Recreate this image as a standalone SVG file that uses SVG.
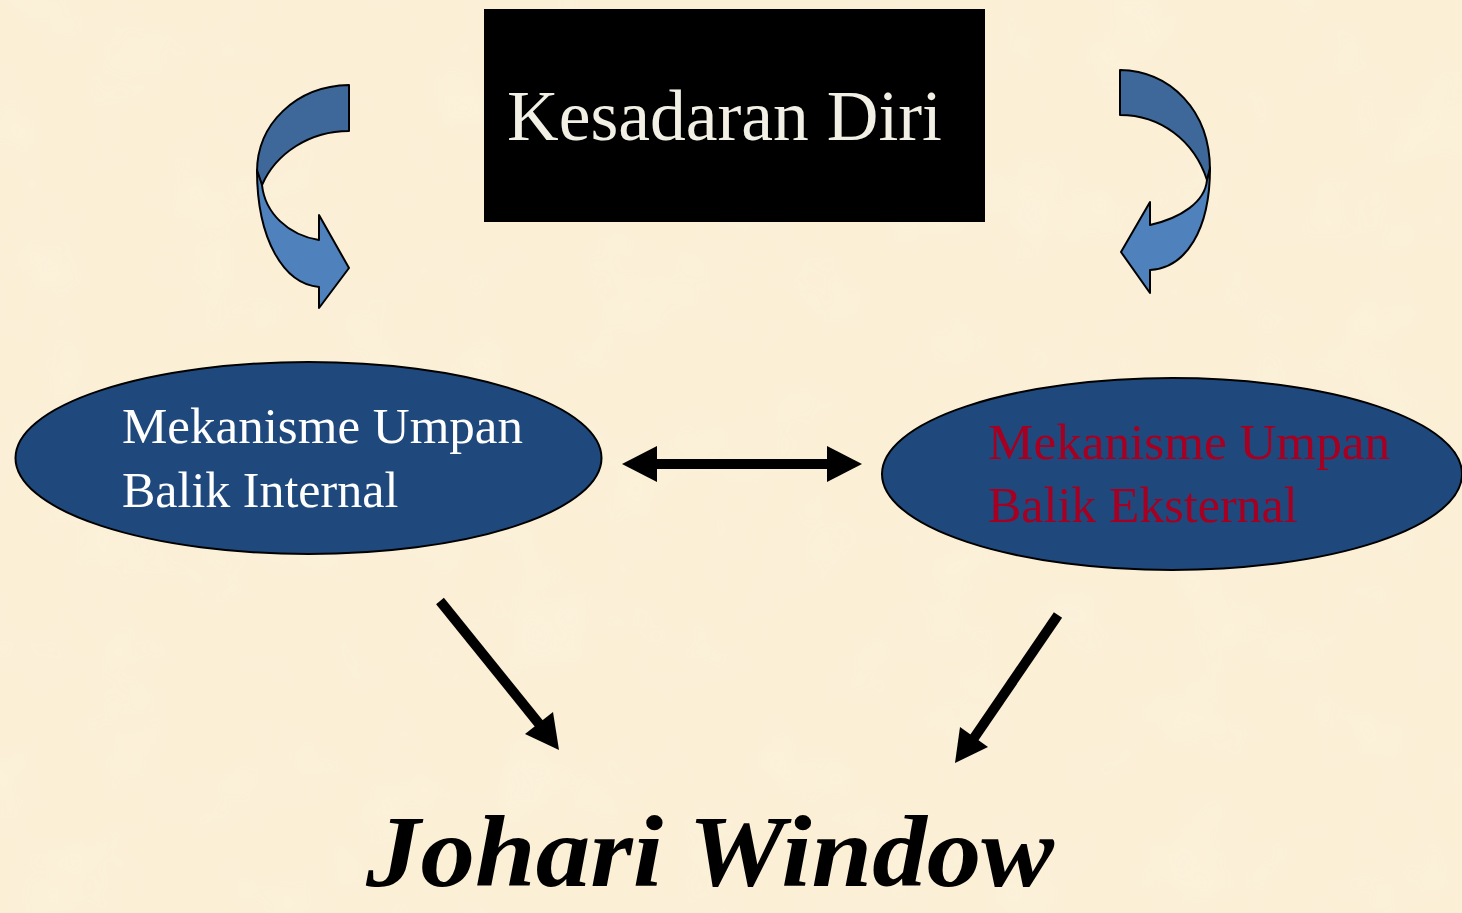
<svg xmlns="http://www.w3.org/2000/svg" width="1462" height="913" viewBox="0 0 1462 913">
  <defs>
    <style>
      .serif { font-family: "Liberation Serif", "DejaVu Serif", serif; }
      .node-ell { fill: #1F497D; stroke: #000; stroke-width: 2; }
      .band-dark { fill: #3F689A; stroke: #000; stroke-width: 2; stroke-linejoin: round; }
      .band-light { fill: #4F81BD; stroke: #000; stroke-width: 2; stroke-linejoin: round; }
      .shaft { stroke: #000; stroke-width: 10; fill: none; }
      .head { fill: #000; }
    </style>
    <filter id="paper" x="0" y="0" width="100%" height="100%">
      <feTurbulence type="fractalNoise" baseFrequency="0.012" numOctaves="3" seed="7" result="n"/>
      <feColorMatrix type="matrix" values="0 0 0 0 1  0 0 0 0 1  0 0 0 0 1  0 0 0 0.35 -0.1" in="n"/>
    </filter>
  </defs>

  <rect x="0" y="0" width="1462" height="913" fill="#FBEFD5"/>
  <rect x="0" y="0" width="1462" height="913" filter="url(#paper)" opacity="0.5"/>

  <g id="kesadaran-diri">
    <rect x="484" y="9" width="501" height="213" fill="#000"/>
    <text class="serif" x="507" y="140" font-size="71" fill="#F2EFE4" textLength="435" lengthAdjust="spacingAndGlyphs">Kesadaran Diri</text>
  </g>

  <g id="curved-arrow-left">
    <path class="band-dark" d="M349,85 C296,86 257,124 257,172 L262,185 C276,153 310,131 349,131 Z"/>
    <path class="band-light" d="M257,170 C257,240 284,284 319,287 L319,308 L349,268 L319,215 L319,240 C288,235 265,213 262,185 Z"/>
  </g>

  <g id="curved-arrow-right">
    <path class="band-dark" d="M1120,70 C1170,71 1210,110 1210,170 L1207,180 C1194,140 1160,115 1120,115 Z"/>
    <path class="band-light" d="M1210,168 C1210,230 1186,268 1150,270 L1150,293 L1121,252 L1150,202 L1150,225 C1181,218 1205,202 1207,180 Z"/>
  </g>

  <g id="umpan-balik-internal">
    <ellipse class="node-ell" cx="308.5" cy="458" rx="293" ry="96"/>
    <text class="serif" font-size="50" fill="#FFFFFF">
      <tspan x="122" y="443" textLength="401" lengthAdjust="spacingAndGlyphs">Mekanisme Umpan</tspan>
      <tspan x="122" y="507">Balik Internal</tspan>
    </text>
  </g>

  <g id="umpan-balik-eksternal">
    <ellipse class="node-ell" cx="1172" cy="474" rx="290" ry="96"/>
    <text class="serif" font-size="50" fill="#A50021">
      <tspan x="988" y="459" textLength="402" lengthAdjust="spacingAndGlyphs">Mekanisme Umpan</tspan>
      <tspan x="988" y="522">Balik Eksternal</tspan>
    </text>
  </g>

  <g id="johari-window">
    <text class="serif" x="366" y="886" font-size="102" font-weight="bold" font-style="italic" fill="#000" textLength="688" lengthAdjust="spacingAndGlyphs">Johari Window</text>
  </g>

  <g id="connectors">
    <line class="shaft" x1="650" y1="464" x2="834" y2="464"/>
    <polygon class="head" points="622,464 657,446 657,482"/>
    <polygon class="head" points="862,464 827,446 827,482"/>

    <line class="shaft" x1="440" y1="601" x2="540" y2="725"/>
    <polygon class="head" points="559,750 525,734 553,712"/>

    <line class="shaft" x1="1058" y1="615" x2="974" y2="738"/>
    <polygon class="head" points="955,763 960,727 988,747"/>
  </g>
</svg>
